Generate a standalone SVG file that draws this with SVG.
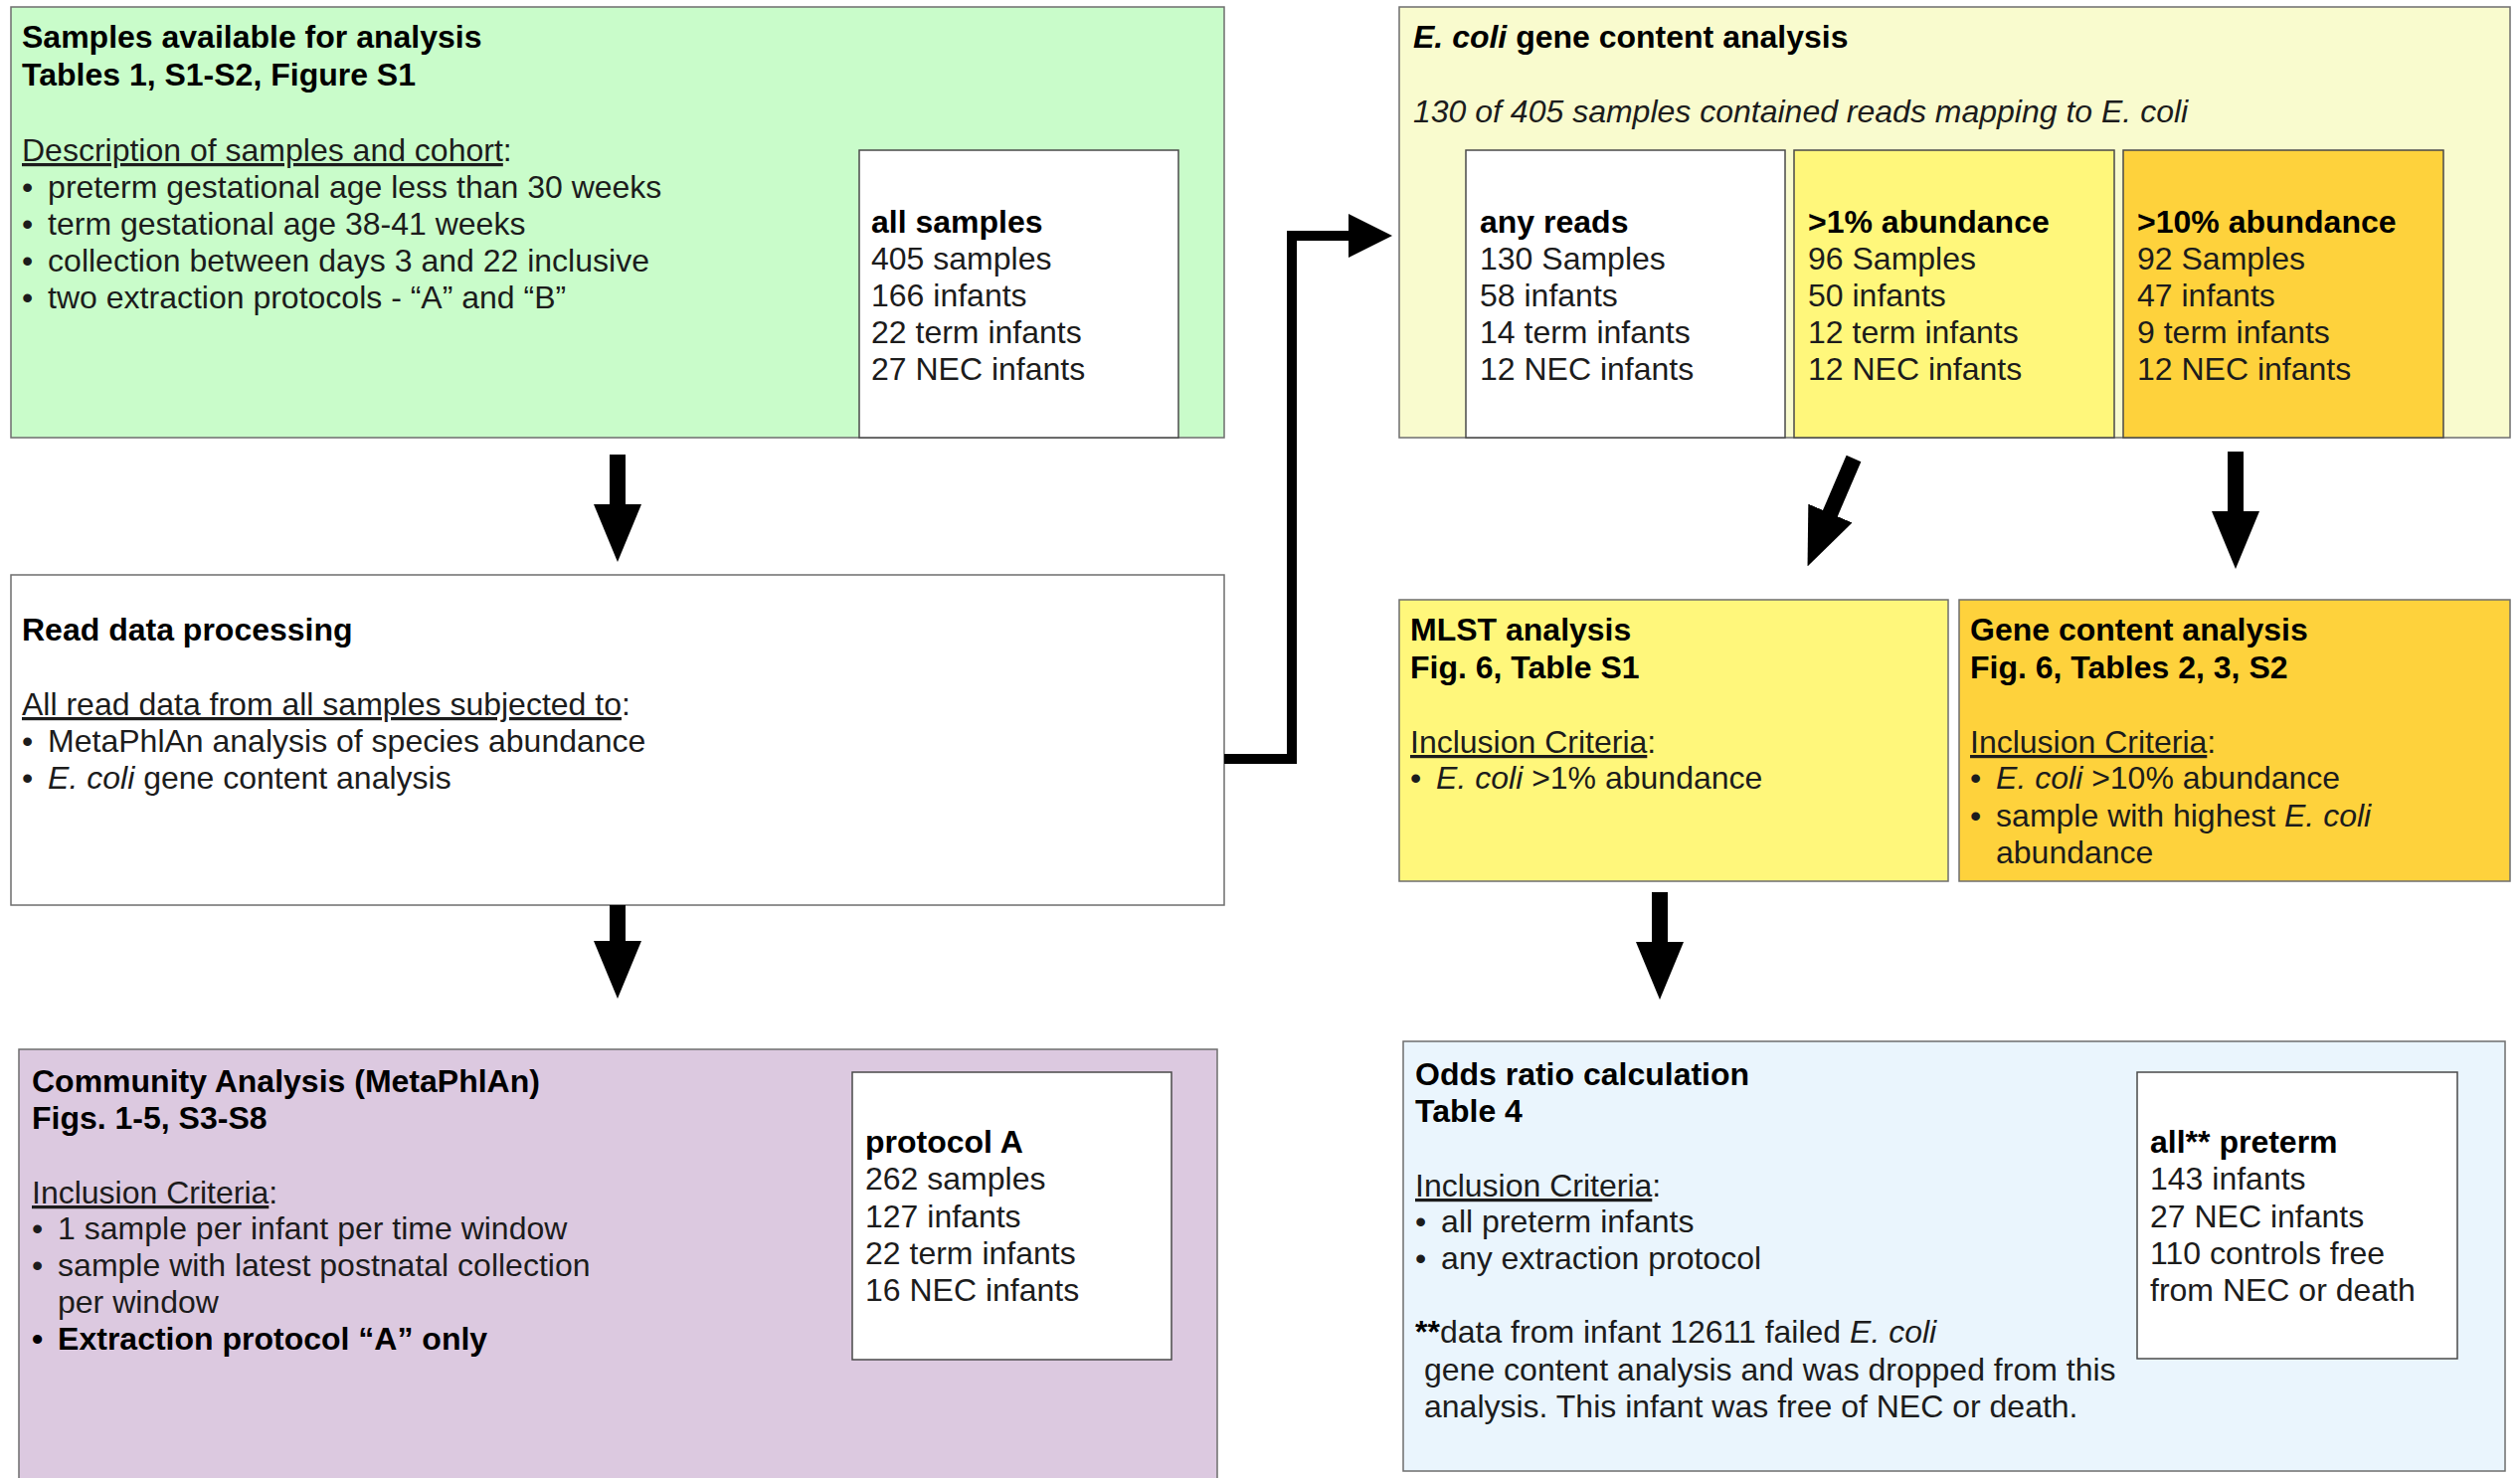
<svg xmlns="http://www.w3.org/2000/svg" width="2534" height="1486" viewBox="0 0 2534 1486">
<style>
text{font-family:"Liberation Sans",Arial,Helvetica,sans-serif;font-size:32px;fill:#1c1c1c;transform:translate(0px,2px)}
.b{font-weight:bold;fill:#000}
.i{font-style:italic}
.u{text-decoration:underline}
.box{stroke:#6e6e6e;stroke-width:1.5}
.inner{stroke:#4a4a4a;stroke-width:1.5}
.arr{stroke:#000;stroke-width:16;fill:none}
.green{fill:#C9FCCA}
.lyellow{fill:#F9FBCE}
.yellow{fill:#FFF77B}
.orange{fill:#FED23C}
.purple{fill:#DCC9E0}
.blue{fill:#EAF5FD}
.white{fill:#FFFFFF}
</style>
<defs>
<marker id="ah" markerUnits="userSpaceOnUse" markerWidth="58" markerHeight="48" refX="1" refY="24" orient="auto" viewBox="0 0 58 48"><path d="M0,0 L58,24 L0,48 z" fill="#000"/></marker>
<marker id="ah2" markerUnits="userSpaceOnUse" markerWidth="44" markerHeight="44" refX="1" refY="22" orient="auto" viewBox="0 0 44 44"><path d="M0,0 L44,22 L0,44 z" fill="#000"/></marker>
</defs>
<rect x="0" y="0" width="2534" height="1486" fill="#fff"/>

<g id="n-samples">
<rect class="box green" x="11" y="7" width="1220" height="433"/>
<text class="b" x="22" y="46">Samples available for analysis</text>
<text class="b" x="22" y="84">Tables 1, S1-S2, Figure S1</text>
<text x="22" y="160"><tspan class="u">Description of samples and cohort</tspan>:</text>
<text x="22" y="197">•<tspan dx="6"> preterm gestational age less than 30 weeks</tspan></text>
<text x="22" y="234">•<tspan dx="6"> term gestational age 38-41 weeks</tspan></text>
<text x="22" y="271">•<tspan dx="6"> collection between days 3 and 22 inclusive</tspan></text>
<text x="22" y="308">•<tspan dx="6"> two extraction protocols - “A” and “B”</tspan></text>
<rect class="inner white" x="864" y="151" width="321" height="289"/>
<text class="b" x="876" y="232">all samples</text>
<text x="876" y="269">405 samples</text>
<text x="876" y="306">166 infants</text>
<text x="876" y="343">22 term infants</text>
<text x="876" y="380">27 NEC infants</text>
</g>

<g id="n-readdata">
<rect class="box white" x="11" y="578" width="1220" height="332"/>
<text class="b" x="22" y="642">Read data processing</text>
<text x="22" y="717"><tspan class="u">All read data from all samples subjected to</tspan>:</text>
<text x="22" y="754">•<tspan dx="6"> MetaPhlAn analysis of species abundance</tspan></text>
<text x="22" y="791">•<tspan dx="6"> </tspan><tspan class="i">E. coli</tspan> gene content analysis</text>
</g>

<g id="n-community">
<rect class="box purple" x="19" y="1055" width="1205" height="450"/>
<text class="b" x="32" y="1096">Community Analysis (MetaPhlAn)</text>
<text class="b" x="32" y="1133">Figs. 1-5, S3-S8</text>
<text x="32" y="1208"><tspan class="u">Inclusion Criteria</tspan>:</text>
<text x="32" y="1244">•<tspan dx="6"> 1 sample per infant per time window</tspan></text>
<text x="32" y="1281">•<tspan dx="6"> sample with latest postnatal collection</tspan></text>
<text x="58" y="1318">per window</text>
<text class="b" x="32" y="1355">•<tspan dx="6"> Extraction protocol “A” only</tspan></text>
<rect class="inner white" x="857" y="1078" width="321" height="289"/>
<text class="b" x="870" y="1157">protocol A</text>
<text x="870" y="1194">262 samples</text>
<text x="870" y="1232">127 infants</text>
<text x="870" y="1269">22 term infants</text>
<text x="870" y="1306">16 NEC infants</text>
</g>

<g id="n-ecoli">
<rect class="box lyellow" x="1407" y="7" width="1117" height="433"/>
<text class="b" x="1421" y="46"><tspan class="i">E. coli</tspan> gene content analysis</text>
<text class="i" x="1421" y="121">130 of 405 samples contained reads mapping to E. coli</text>
<rect class="inner white" x="1474" y="151" width="321" height="289"/>
<rect class="inner yellow" x="1804" y="151" width="322" height="289"/>
<rect class="inner orange" x="2135" y="151" width="322" height="289"/>
<text class="b" x="1488" y="232">any reads</text>
<text x="1488" y="269">130 Samples</text>
<text x="1488" y="306">58 infants</text>
<text x="1488" y="343">14 term infants</text>
<text x="1488" y="380">12 NEC infants</text>
<text class="b" x="1818" y="232">&gt;1% abundance</text>
<text x="1818" y="269">96 Samples</text>
<text x="1818" y="306">50 infants</text>
<text x="1818" y="343">12 term infants</text>
<text x="1818" y="380">12 NEC infants</text>
<text class="b" x="2149" y="232">&gt;10% abundance</text>
<text x="2149" y="269">92 Samples</text>
<text x="2149" y="306">47 infants</text>
<text x="2149" y="343">9 term infants</text>
<text x="2149" y="380">12 NEC infants</text>
</g>

<g id="n-mlst">
<rect class="box yellow" x="1407" y="603" width="552" height="283"/>
<text class="b" x="1418" y="642">MLST analysis</text>
<text class="b" x="1418" y="680">Fig. 6, Table S1</text>
<text x="1418" y="755"><tspan class="u">Inclusion Criteria</tspan>:</text>
<text x="1418" y="791">•<tspan dx="6"> </tspan><tspan class="i">E. coli</tspan> &gt;1% abundance</text>
</g>

<g id="n-genecontent">
<rect class="box orange" x="1970" y="603" width="554" height="283"/>
<text class="b" x="1981" y="642">Gene content analysis</text>
<text class="b" x="1981" y="680">Fig. 6, Tables 2, 3, S2</text>
<text x="1981" y="755"><tspan class="u">Inclusion Criteria</tspan>:</text>
<text x="1981" y="791">•<tspan dx="6"> </tspan><tspan class="i">E. coli</tspan> &gt;10% abundance</text>
<text x="1981" y="829">•<tspan dx="6"> sample with highest </tspan><tspan class="i">E. coli</tspan></text>
<text x="2007" y="866">abundance</text>
</g>

<g id="n-odds">
<rect class="box blue" x="1411" y="1047" width="1108" height="432"/>
<text class="b" x="1423" y="1089">Odds ratio calculation</text>
<text class="b" x="1423" y="1126">Table 4</text>
<text x="1423" y="1201"><tspan class="u">Inclusion Criteria</tspan>:</text>
<text x="1423" y="1237">•<tspan dx="6"> all preterm infants</tspan></text>
<text x="1423" y="1274">•<tspan dx="6"> any extraction protocol</tspan></text>
<text x="1423" y="1348"><tspan class="b">**</tspan>data from infant 12611 failed <tspan class="i">E. coli</tspan></text>
<text x="1432" y="1386">gene content analysis and was dropped from this</text>
<text x="1432" y="1423">analysis. This infant was free of NEC or death.</text>
<rect class="inner white" x="2149" y="1078" width="322" height="288"/>
<text class="b" x="2162" y="1157">all** preterm</text>
<text x="2162" y="1194">143 infants</text>
<text x="2162" y="1232">27 NEC infants</text>
<text x="2162" y="1269">110 controls free</text>
<text x="2162" y="1306">from NEC or death</text>
</g>

<g id="connectors">
<line class="arr" x1="621" y1="457" x2="621" y2="508" marker-end="url(#ah)"/>
<line class="arr" x1="621" y1="910" x2="621" y2="947" marker-end="url(#ah)"/>
<line class="arr" x1="1669" y1="897" x2="1669" y2="948" marker-end="url(#ah)"/>
<line class="arr" x1="2248" y1="454" x2="2248" y2="515" marker-end="url(#ah)"/>
<line class="arr" x1="1864" y1="461" x2="1840" y2="517" marker-end="url(#ah)"/>
<polyline class="arr" style="stroke-width:10;stroke-linejoin:miter" points="1231,763 1299,763 1299,237 1357,237" marker-end="url(#ah2)"/>
</g>
</svg>
